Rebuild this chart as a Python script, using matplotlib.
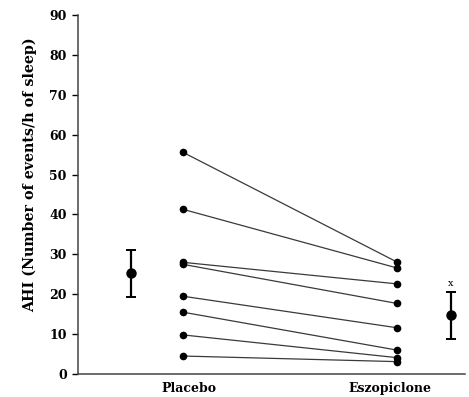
import matplotlib.pyplot as plt

# AHI per subject, placebo night vs eszopiclone night
placebo = [55.6, 41.3, 28.0, 27.5, 19.5, 15.5, 9.8, 4.5]
eszopiclone = [28.1, 26.6, 22.6, 17.7, 11.6, 6.0, 4.1, 3.1]

# group mean and SD
placebo_mean, placebo_sd = 25.2, 6.0
esz_mean, esz_sd = 14.7, 5.9

groups = ["Placebo", "Eszopiclone"]

plt.rcParams['font.family'] = ['DejaVu Serif']
plt.rcParams['font.weight'] = 'bold'

fig = plt.figure(figsize=(4.69, 3.97), dpi=100)
ax = fig.add_axes([0.166, 0.058, 0.825, 0.904])

for p, e in zip(placebo, eszopiclone):
    ax.plot([1, 2], [p, e], color='#3a3a3a', lw=0.9, marker='o',
            markersize=4.5, markerfacecolor='black', markeredgecolor='black')

ax.errorbar([0.757], [placebo_mean], yerr=[placebo_sd], fmt='o', color='black',
            markersize=6.5, elinewidth=1.6, capsize=3.5, capthick=1.4)
ax.errorbar([2.252], [esz_mean], yerr=[esz_sd], fmt='o', color='black',
            markersize=6.5, elinewidth=1.6, capsize=3.5, capthick=1.4)
ax.text(2.252, esz_mean + esz_sd + 1.0, 'x', ha='center', va='bottom',
        fontsize=7, fontweight='normal')

ax.set_xlim(0.509, 2.318)
ax.set_ylim(0, 90)
ax.set_yticks(range(0, 91, 10))
ax.set_xticks([1.03, 1.97])
ax.set_xticklabels(groups, fontsize=9, fontweight='bold')
ax.tick_params(axis='x', length=0, pad=6)
ax.tick_params(axis='y', length=4, width=1, direction='out', labelsize=9, pad=4)
for lab in ax.get_yticklabels():
    lab.set_fontweight('bold')

ax.spines['top'].set_visible(False)
ax.spines['right'].set_visible(False)
for s in ('left', 'bottom'):
    ax.spines[s].set_linewidth(1.1)
    ax.spines[s].set_color('#444444')

ax.set_ylabel('AHI (Number of events/h of sleep)', fontsize=10.3, fontweight='bold')
ax.yaxis.set_label_coords(-0.105, 0.554)

fig.savefig('out.png', dpi=100, facecolor='white')
